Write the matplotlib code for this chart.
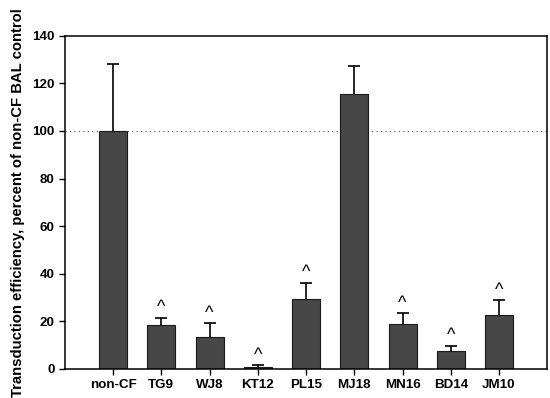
import matplotlib.pyplot as plt
import numpy as np

plt.rcParams['font.family'] = ['Liberation Sans', 'DejaVu Sans']

samples = ['non-CF', 'TG9', 'WJ8', 'KT12', 'PL15', 'MJ18', 'MN16', 'BD14', 'JM10']
efficiency = [100, 18.4, 13.4, 1.0, 29.6, 115.5, 18.9, 7.7, 22.6]
sem = [28.3, 3.2, 5.8, 0.5, 6.7, 11.8, 4.5, 2.0, 6.4]
significant = [False, True, True, True, True, False, True, True, True]

fig = plt.figure(figsize=(5.5, 3.98), dpi=100)
ax = fig.add_axes([0.118, 0.073, 0.877, 0.837])

x = np.arange(len(samples))
ax.bar(x, efficiency, width=0.58, color='#474747', edgecolor='#1a1a1a', linewidth=0.8, zorder=2)
_, caps, _ = ax.errorbar(x, efficiency, yerr=[np.zeros(len(sem)), sem], fmt='none',
                         ecolor='black', elinewidth=1.2, capsize=4, capthick=1.2, zorder=3)
# only keep the upper cap
caps[0].set_visible(False)

for xi, v, e, s in zip(x, efficiency, sem, significant):
    if s:
        ax.annotate('^', (xi, v + e), xytext=(0, 1), textcoords='offset points',
                    ha='center', va='bottom', fontsize=13)

ax.axhline(100, color='#555555', linestyle=(0, (1, 3)), linewidth=0.8, zorder=1)

ax.set_xlim(-1, 9)
ax.set_ylim(0, 140)
ax.set_yticks(range(0, 141, 20))
ax.set_xticks(x)
ax.set_xticklabels(samples)
ax.tick_params(axis='both', direction='out', length=4, width=1, labelsize=9.6)
for lbl in ax.get_xticklabels() + ax.get_yticklabels():
    lbl.set_fontweight('bold')
for sp in ax.spines.values():
    sp.set_linewidth(1.1)

ax.set_ylabel('Transduction efficiency, percent of non-CF BAL control',
              fontsize=10.7, fontweight='bold', labelpad=5)

plt.savefig('out.png', dpi=100)
